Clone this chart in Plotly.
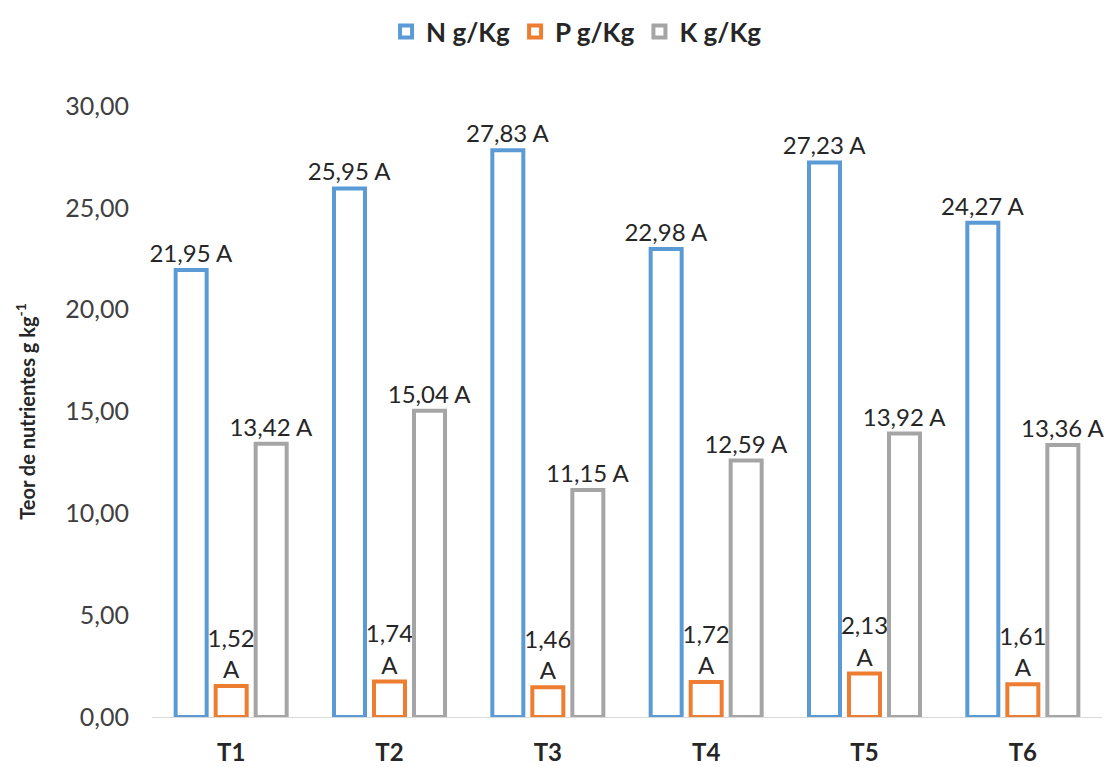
import plotly.graph_objects as go

categories = ["T1", "T2", "T3", "T4", "T5", "T6"]
n_vals = [21.95, 25.95, 27.83, 22.98, 27.23, 24.27]
p_vals = [1.52, 1.74, 1.46, 1.72, 2.13, 1.61]
k_vals = [13.42, 15.04, 11.15, 12.59, 13.92, 13.36]
letters_n = ["A"] * 6
letters_p = ["A"] * 6
letters_k = ["A"] * 6
y_ticks = [0, 5, 10, 15, 20, 25, 30]

def fmt(v):
    return f"{v:.2f}".replace(".", ",")

FONT = "Lato"
series = [
    ("N g/Kg", n_vals, letters_n, "#5B9BD5", " "),
    ("P g/Kg", p_vals, letters_p, "#ED7D31", "<br>"),
    ("K g/Kg", k_vals, letters_k, "#A5A5A5", " "),
]

fig = go.Figure()
for name, vals, lets, col, sep in series:
    fig.add_trace(go.Bar(
        x=categories, y=vals, name=name,
        marker=dict(color="rgba(255,255,255,0)", line=dict(color=col, width=4)),
        text=[fmt(v) + sep + l for v, l in zip(vals, lets)],
        textposition="outside", constraintext="none", cliponaxis=False,
        textfont=dict(family=FONT, size=24, color="#262626"),
    ))

fig.update_layout(
    width=1104, height=759,
    paper_bgcolor="white", plot_bgcolor="white",
    barmode="group", bargap=0.242, bargroupgap=0.225,
    margin=dict(l=144, r=10, t=98, b=50),
    font=dict(family=FONT, color="#404040"),
    legend=dict(orientation="h", x=0.515, xref="container", xanchor="center",
                y=1.0, yref="container", yanchor="top",
                font=dict(family=FONT, size=26, color="#262626", weight="bold"),
                traceorder="normal"),
    showlegend=True,
)
fig.update_yaxes(range=[0, 30], tickvals=y_ticks, ticktext=[fmt(v) for v in y_ticks],
                 showgrid=False, zeroline=False, showline=False, automargin=False,
                 tickfont=dict(family=FONT, size=25, color="#404040"), ticks="",
                 ticklabelstandoff=22,
                 title=dict(text="Teor de nutrientes g kg<sup>-1</sup>", standoff=24,
                            font=dict(family=FONT, size=20, color="#262626", weight="bold")))
fig.update_xaxes(showgrid=False, showline=True, linecolor="#D9D9D9", linewidth=1,
                 ticks="", ticklabelstandoff=14, automargin=False,
                 tickfont=dict(family=FONT, size=24, color="#262626", weight="bold"))

fig.write_html("out.html")
